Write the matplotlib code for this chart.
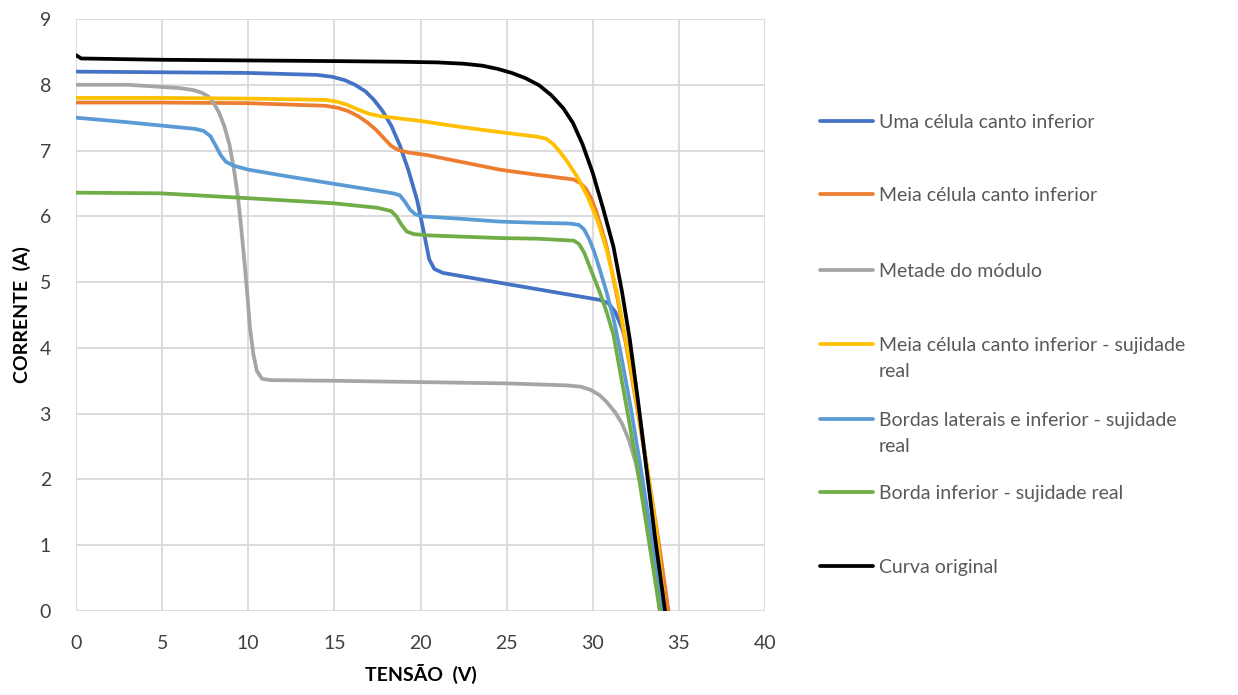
import matplotlib
matplotlib.use("Agg")
import matplotlib.pyplot as plt
from matplotlib.lines import Line2D

plt.rcParams['font.family'] = ['Lato', 'DejaVu Sans']

labels = [
    "Uma célula canto inferior",
    "Meia célula canto inferior",
    "Metade do módulo",
    "Meia célula canto inferior - sujidade\nreal",
    "Bordas laterais e inferior - sujidade\nreal",
    "Borda inferior - sujidade real",
    "Curva original",
]
colors = ["#4472C4", "#ED7D31", "#A5A5A5", "#FFC000", "#5B9BD5", "#70AD47", "#000000"]

# Uma célula canto inferior
v_uma = [0, 5, 10, 14.0, 14.9, 15.6, 16.2, 16.8, 17.3, 17.8, 18.3, 18.8, 19.3, 19.8, 20.2, 20.5, 20.8, 21.3, 24.6, 27.5, 30.4, 30.9, 31.3, 31.7, 32.1, 32.6, 33.1, 33.6, 34.1]
i_uma = [8.20, 8.19, 8.18, 8.15, 8.12, 8.07, 8.00, 7.90, 7.77, 7.60, 7.38, 7.08, 6.70, 6.25, 5.75, 5.35, 5.20, 5.14, 4.99, 4.86, 4.73, 4.68, 4.55, 4.30, 3.95, 3.20, 2.25, 1.20, 0.0]
# Meia célula canto inferior
v_meia = [0, 5, 10, 14.5, 15.2, 15.8, 16.4, 16.9, 17.4, 17.9, 18.3, 18.7, 19.3, 20.4, 22.5, 24.6, 26.8, 28.9, 29.3, 29.6, 29.9, 30.2, 30.5, 30.8, 31.4, 32.0, 32.6, 33.2, 33.8, 34.4]
i_meia = [7.73, 7.73, 7.72, 7.68, 7.65, 7.60, 7.52, 7.43, 7.32, 7.18, 7.07, 7.01, 6.97, 6.93, 6.82, 6.71, 6.63, 6.56, 6.50, 6.42, 6.28, 6.08, 5.82, 5.55, 4.80, 3.95, 3.05, 2.10, 1.10, 0.0]
# Metade do módulo
v_metade = [0, 3, 6.0, 6.8, 7.3, 7.7, 8.0, 8.3, 8.6, 8.9, 9.15, 9.4, 9.6, 9.8, 9.95, 10.1, 10.3, 10.5, 10.8, 11.3, 15, 20, 25, 28.5, 29.3, 29.9, 30.4, 30.8, 31.3, 31.7, 32.1, 32.5, 32.9, 33.4, 33.9]
i_metade = [8.0, 8.0, 7.95, 7.92, 7.88, 7.82, 7.72, 7.58, 7.38, 7.10, 6.75, 6.30, 5.80, 5.25, 4.80, 4.30, 3.90, 3.65, 3.53, 3.51, 3.50, 3.48, 3.46, 3.43, 3.41, 3.36, 3.28, 3.18, 3.02, 2.85, 2.60, 2.25, 1.75, 0.90, 0.0]
# Meia célula canto inferior - sujidade real
v_meia_suj = [0, 5, 10, 14.5, 15.2, 15.8, 16.4, 17.0, 17.7, 18.4, 20, 22.3, 24.6, 26.8, 27.3, 27.7, 28.1, 28.5, 29.1, 29.7, 30.3, 30.8, 31.4, 32.0, 32.6, 33.2, 33.7, 34.2]
i_meia_suj = [7.80, 7.80, 7.79, 7.77, 7.74, 7.69, 7.62, 7.56, 7.52, 7.50, 7.45, 7.36, 7.28, 7.21, 7.18, 7.10, 6.98, 6.84, 6.60, 6.30, 5.92, 5.50, 4.85, 4.00, 3.10, 2.10, 1.20, 0.0]
# Bordas laterais e inferior - sujidade real
v_bordas = [0, 3, 6.5, 6.9, 7.4, 7.8, 8.1, 8.4, 8.7, 9.15, 10, 12, 14.6, 17, 18.4, 18.8, 19.1, 19.4, 19.7, 20.1, 22.5, 24.6, 27, 28.7, 29.2, 29.5, 29.8, 30.1, 30.4, 30.8, 31.2, 31.6, 32.2, 32.8, 33.4, 34.1]
i_bordas = [7.50, 7.43, 7.34, 7.33, 7.30, 7.22, 7.08, 6.93, 6.83, 6.77, 6.71, 6.62, 6.51, 6.41, 6.35, 6.32, 6.22, 6.10, 6.03, 6.00, 5.96, 5.92, 5.90, 5.89, 5.87, 5.80, 5.65, 5.45, 5.20, 4.85, 4.45, 3.95, 3.10, 2.15, 1.15, 0.0]
# Borda inferior - sujidade real
v_borda = [0, 4.9, 9.7, 14.9, 17.5, 18.3, 18.6, 18.9, 19.2, 19.6, 20.5, 22.5, 24.6, 26.8, 28.9, 29.2, 29.5, 29.8, 30.1, 30.4, 30.8, 31.2, 32.0, 32.7, 33.3, 33.9]
i_borda = [6.36, 6.35, 6.28, 6.20, 6.13, 6.08, 6.00, 5.87, 5.77, 5.73, 5.71, 5.69, 5.67, 5.66, 5.63, 5.58, 5.45, 5.25, 5.05, 4.85, 4.55, 4.20, 3.05, 2.00, 1.00, 0.0]
# Curva original
v_orig = [0, 0.3, 5, 10, 15, 18.8, 21.0, 22.5, 23.6, 24.5, 25.3, 26.1, 26.9, 27.6, 28.3, 28.85, 29.4, 30.0, 30.6, 31.2, 31.7, 32.15, 32.6, 33.1, 33.6, 34.2]
i_orig = [8.45, 8.40, 8.38, 8.37, 8.36, 8.35, 8.34, 8.32, 8.29, 8.24, 8.18, 8.10, 7.99, 7.84, 7.64, 7.42, 7.10, 6.66, 6.12, 5.54, 4.85, 4.13, 3.25, 2.20, 1.15, 0.0]

series_v = [v_uma, v_meia, v_metade, v_meia_suj, v_bordas, v_borda, v_orig]
series_i = [i_uma, i_meia, i_metade, i_meia_suj, i_bordas, i_borda, i_orig]

x_ticks = [0, 5, 10, 15, 20, 25, 30, 35, 40]
y_ticks = [0, 1, 2, 3, 4, 5, 6, 7, 8, 9]

W, H = 1238, 695
fig = plt.figure(figsize=(W / 100, H / 100), dpi=100)
ax = fig.add_axes([76 / W, 1 - 611 / H, (765 - 76) / W, (611 - 19) / H])

for v, i, c, lab in zip(series_v, series_i, colors, labels):
    ax.plot(v, i, color=c, lw=2.7, solid_capstyle='round', solid_joinstyle='round', label=lab)

ax.set_xlim(0, 40)
ax.set_ylim(0, 9)
ax.set_xticks(x_ticks)
ax.set_yticks(y_ticks)
ax.grid(True, color="#D9D9D9", lw=1.3)
ax.set_axisbelow(True)
for s in ax.spines.values():
    s.set_visible(False)
ax.tick_params(length=0, labelsize=14, labelcolor="#404040")
ax.tick_params(axis='x', pad=17)
ax.tick_params(axis='y', pad=18)
ax.set_xlabel("TENSÃO  (V)", fontsize=14, fontweight='bold', labelpad=9)
ax.set_ylabel("CORRENTE  (A)", fontsize=14, fontweight='bold', labelpad=6)

# legend drawn at the right
ys = [121, 194, 270, 344, 419, 492, 566]
for y, c, lab in zip(ys, colors, labels):
    fig.add_artist(Line2D([820 / W, 873 / W], [1 - y / H, 1 - y / H], color=c, lw=2.7,
                          transform=fig.transFigure, solid_capstyle='round'))
    fig.text(879 / W, 1 - (y - 7) / H, lab, fontsize=14, color="#595959",
             va='top', ha='left', linespacing=1.65)

fig.savefig("out.png", dpi=100)
